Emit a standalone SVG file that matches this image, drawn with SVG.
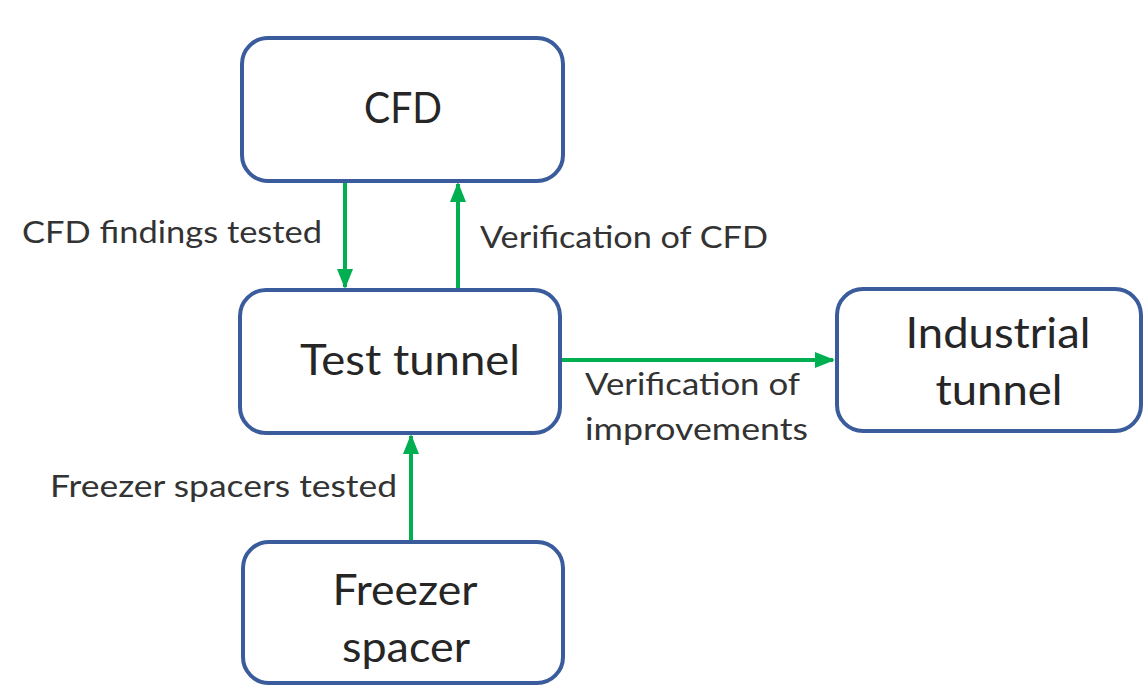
<svg xmlns="http://www.w3.org/2000/svg" width="1143" height="691" viewBox="0 0 1143 691">
<style>
.box{fill:#fff;stroke:#3A5C9C;stroke-width:4}
.node{font-family:Lato,"Open Sans",sans-serif;font-size:43px;fill:#262626;text-anchor:middle}
.lbl{font-family:Lato,"Open Sans",sans-serif;font-size:30px;fill:#333}
.con{stroke:#00B050;stroke-width:4;fill:none;marker-end:url(#ah)}
</style>
<defs>
<marker id="ah" markerWidth="5" markerHeight="4" refX="4.5" refY="2" orient="auto" markerUnits="strokeWidth">
<path d="M0,0 L5,2 L0,4 Z" fill="#00B050"/>
</marker>
</defs>
<rect width="1143" height="691" fill="#fff"/>
<g id="connectors">
<line class="con" x1="345" y1="182" x2="345" y2="287"/>
<line class="con" x1="458" y1="289" x2="458" y2="184"/>
<line class="con" x1="560" y1="360" x2="833" y2="360"/>
<line class="con" x1="411" y1="541" x2="411" y2="436"/>
</g>
<g id="cfd">
<rect class="box" x="242" y="38" width="321" height="143" rx="26"/>
<text class="node" x="403" y="123" textLength="78" lengthAdjust="spacingAndGlyphs">CFD</text>
</g>
<g id="test-tunnel">
<rect class="box" x="240" y="290" width="320" height="143" rx="26"/>
<text class="node" x="410" y="375" textLength="220" lengthAdjust="spacingAndGlyphs">Test tunnel</text>
</g>
<g id="industrial-tunnel">
<rect class="box" x="837" y="289" width="304" height="142" rx="26"/>
<text class="node" x="998" y="348" textLength="185" lengthAdjust="spacingAndGlyphs">Industrial</text>
<text class="node" x="999" y="405" textLength="127" lengthAdjust="spacingAndGlyphs">tunnel</text>
</g>
<g id="freezer-spacer">
<rect class="box" x="243" y="542" width="320" height="141" rx="26"/>
<text class="node" x="405" y="605" textLength="145" lengthAdjust="spacingAndGlyphs">Freezer</text>
<text class="node" x="406" y="662" textLength="128" lengthAdjust="spacingAndGlyphs">spacer</text>
</g>
<g id="labels">
<text class="lbl" x="22" y="243" textLength="300" lengthAdjust="spacingAndGlyphs">CFD findings tested</text>
<text class="lbl" x="480" y="248" textLength="288" lengthAdjust="spacingAndGlyphs">Verification of CFD</text>
<text class="lbl" x="585" y="395" textLength="215" lengthAdjust="spacingAndGlyphs">Verification of</text>
<text class="lbl" x="585" y="440" textLength="223" lengthAdjust="spacingAndGlyphs">improvements</text>
<text class="lbl" x="50" y="497" textLength="347" lengthAdjust="spacingAndGlyphs">Freezer spacers tested</text>
</g>
</svg>
